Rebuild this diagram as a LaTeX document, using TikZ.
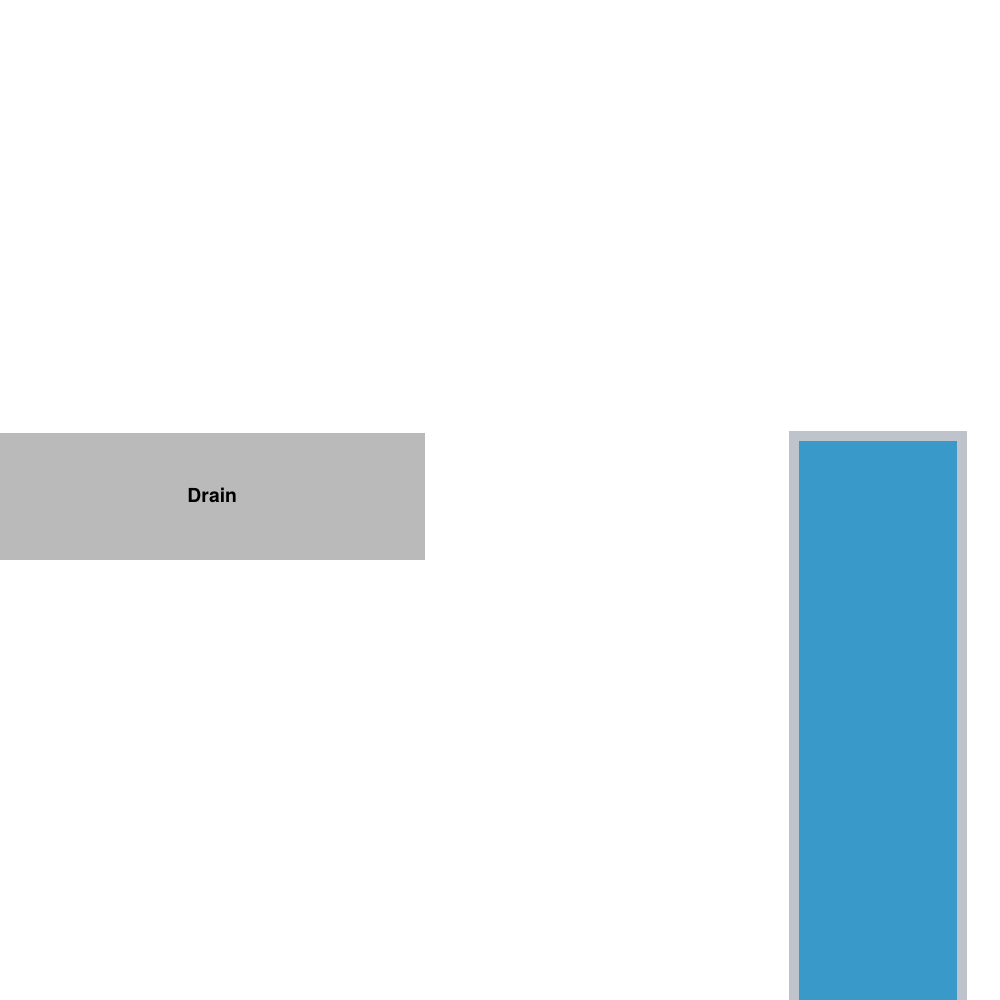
\documentclass[tikz,border=0pt]{standalone}
\usepackage{fontspec}
\setsansfont{TeX Gyre Heros}
\usetikzlibrary{positioning}

\definecolor{draingray}{HTML}{BABABA}
\definecolor{tankrim}{HTML}{BFC3CC}
\definecolor{tankblue}{HTML}{399AC9}

\begin{document}
\begin{tikzpicture}[
  drainbox/.style={fill=draingray, inner sep=0pt, minimum width=4.25cm, minimum height=1.27cm,
    font=\sffamily\bfseries\fontsize{5.5pt}{6pt}\selectfont},
  tankbox/.style={fill=tankblue, draw=tankrim, line width=0.1cm, inner sep=0pt,
    minimum width=1.68cm, minimum height=6.0cm}
]
  \useasboundingbox (0,0) rectangle (10,10);
  \clip (0,0) rectangle (10,10);

  \node[drainbox, anchor=north west] (drain) at (-0.01,5.675) {\raisebox{0.2mm}{Drain}};
  \node[tankbox, anchor=north west] (tank) at (7.89,5.69) {};
\end{tikzpicture}
\end{document}
